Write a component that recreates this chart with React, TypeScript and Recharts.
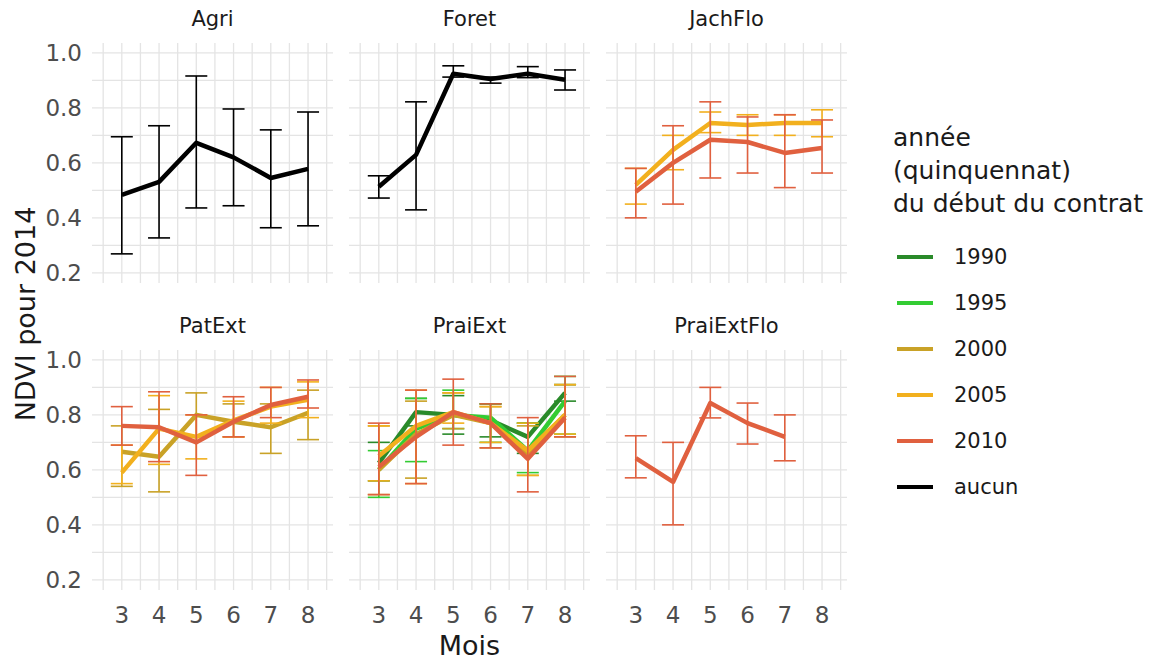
import { LineChart, Line, XAxis, YAxis, CartesianGrid, ErrorBar } from "recharts";

const MOIS = [3, 4, 5, 6, 7, 8];
const X_TICKS = [2.5, 3, 3.5, 4, 4.5, 5, 5.5, 6, 6.5, 7, 7.5, 8, 8.5];
const Y_TICKS = [0.2, 0.3, 0.4, 0.5, 0.6, 0.7, 0.8, 0.9, 1.0];

const ANNEES = ["1990", "1995", "2000", "2005", "2010", "aucun"];
const COULEURS: Record<string, string> = {
  "1990": "#2a8a2a",
  "1995": "#33cc33",
  "2000": "#c9a227",
  "2005": "#f2b01e",
  "2010": "#e0603f",
  aucun: "#000000",
};

// Agri
const agriAucunMoy = [0.484, 0.531, 0.673, 0.62, 0.545, 0.578];
const agriAucunBas = [0.269, 0.327, 0.436, 0.444, 0.364, 0.371];
const agriAucunHaut = [0.695, 0.735, 0.916, 0.796, 0.72, 0.785];

// Foret
const foretAucunMoy = [0.513, 0.629, 0.924, 0.905, 0.924, 0.902];
const foretAucunBas = [0.472, 0.429, 0.912, 0.89, 0.91, 0.865];
const foretAucunHaut = [0.553, 0.822, 0.953, 0.912, 0.95, 0.938];

// JachFlo
const jach2005Moy = [0.52, 0.647, 0.745, 0.738, 0.745, 0.745];
const jach2005Bas = [0.45, 0.575, 0.71, 0.7, 0.7, 0.695];
const jach2005Haut = [0.58, 0.7, 0.785, 0.775, 0.775, 0.793];
const jach2010Moy = [0.495, 0.6, 0.684, 0.676, 0.636, 0.654];
const jach2010Bas = [0.4, 0.45, 0.545, 0.563, 0.51, 0.563];
const jach2010Haut = [0.58, 0.735, 0.822, 0.767, 0.775, 0.756];

// PatExt
const pat2000Moy = [0.666, 0.648, 0.8, 0.775, 0.755, 0.807];
const pat2000Bas = [0.54, 0.52, 0.72, 0.72, 0.66, 0.71];
const pat2000Haut = [0.76, 0.82, 0.88, 0.84, 0.84, 0.89];
const pat2005Moy = [0.59, 0.75, 0.72, 0.78, 0.83, 0.855];
const pat2005Bas = [0.55, 0.62, 0.64, 0.72, 0.77, 0.79];
const pat2005Haut = [0.69, 0.87, 0.8, 0.85, 0.9, 0.92];
const pat2010Moy = [0.76, 0.755, 0.7, 0.775, 0.836, 0.866];
const pat2010Bas = [0.69, 0.63, 0.58, 0.72, 0.79, 0.825];
const pat2010Haut = [0.83, 0.884, 0.8, 0.866, 0.9, 0.927];

// PraiExt
const prai1990Moy = [0.625, 0.81, 0.8, 0.78, 0.72, 0.88];
const prai1990Bas = [0.56, 0.76, 0.73, 0.72, 0.66, 0.85];
const prai1990Haut = [0.7, 0.86, 0.87, 0.84, 0.77, 0.91];
const prai1995Moy = [0.6, 0.75, 0.8, 0.79, 0.67, 0.85];
const prai1995Bas = [0.5, 0.63, 0.75, 0.7, 0.59, 0.73];
const prai1995Haut = [0.67, 0.86, 0.89, 0.84, 0.77, 0.94];
const prai2000Moy = [0.6, 0.73, 0.8, 0.77, 0.66, 0.8];
const prai2000Bas = [0.51, 0.57, 0.75, 0.68, 0.58, 0.72];
const prai2000Haut = [0.76, 0.85, 0.88, 0.83, 0.76, 0.91];
const prai2005Moy = [0.65, 0.76, 0.81, 0.77, 0.67, 0.8];
const prai2005Bas = [0.56, 0.55, 0.77, 0.7, 0.58, 0.73];
const prai2005Haut = [0.76, 0.89, 0.88, 0.83, 0.77, 0.91];
const prai2010Moy = [0.61, 0.72, 0.81, 0.77, 0.64, 0.79];
const prai2010Bas = [0.51, 0.55, 0.69, 0.68, 0.52, 0.72];
const prai2010Haut = [0.77, 0.89, 0.93, 0.84, 0.79, 0.94];

// PraiExtFlo (pas de mois 8)
const praiFlo2010Moy = [0.643, 0.556, 0.843, 0.77, 0.72];
const praiFlo2010Bas = [0.571, 0.4, 0.789, 0.694, 0.633];
const praiFlo2010Haut = [0.724, 0.7, 0.9, 0.843, 0.8];

interface Serie {
  annee: string;
  moy: number[];
  bas: number[];
  haut: number[];
}

interface Panneau {
  titre: string;
  series: Serie[];
}

const PANNEAUX: Panneau[] = [
  { titre: "Agri", series: [{ annee: "aucun", moy: agriAucunMoy, bas: agriAucunBas, haut: agriAucunHaut }] },
  { titre: "Foret", series: [{ annee: "aucun", moy: foretAucunMoy, bas: foretAucunBas, haut: foretAucunHaut }] },
  {
    titre: "JachFlo",
    series: [
      { annee: "2005", moy: jach2005Moy, bas: jach2005Bas, haut: jach2005Haut },
      { annee: "2010", moy: jach2010Moy, bas: jach2010Bas, haut: jach2010Haut },
    ],
  },
  {
    titre: "PatExt",
    series: [
      { annee: "2000", moy: pat2000Moy, bas: pat2000Bas, haut: pat2000Haut },
      { annee: "2005", moy: pat2005Moy, bas: pat2005Bas, haut: pat2005Haut },
      { annee: "2010", moy: pat2010Moy, bas: pat2010Bas, haut: pat2010Haut },
    ],
  },
  {
    titre: "PraiExt",
    series: [
      { annee: "1990", moy: prai1990Moy, bas: prai1990Bas, haut: prai1990Haut },
      { annee: "1995", moy: prai1995Moy, bas: prai1995Bas, haut: prai1995Haut },
      { annee: "2000", moy: prai2000Moy, bas: prai2000Bas, haut: prai2000Haut },
      { annee: "2005", moy: prai2005Moy, bas: prai2005Bas, haut: prai2005Haut },
      { annee: "2010", moy: prai2010Moy, bas: prai2010Bas, haut: prai2010Haut },
    ],
  },
  { titre: "PraiExtFlo", series: [{ annee: "2010", moy: praiFlo2010Moy, bas: praiFlo2010Bas, haut: praiFlo2010Haut }] },
];

const FONT = "DejaVu Sans";
const PLOT_W = 241;
const PLOT_H = 240;
const COL_X = [92, 349, 606];
const ROW_Y = [43, 350];
const Y_AXIS_W = 80;
const X_AXIS_H = 45;
const PAD = 15; // marge pour ne pas couper les étiquettes 1.0 / 0.2

function buildRows(p: Panneau) {
  return MOIS.map((m, i) => {
    const row: Record<string, any> = { mois: m };
    p.series.forEach((s) => {
      if (i < s.moy.length) {
        row[`v${s.annee}`] = s.moy[i];
        row[`e${s.annee}`] = [s.moy[i] - s.bas[i], s.haut[i] - s.moy[i]];
      }
    });
    return row;
  }).filter((r) => Object.keys(r).length > 1);
}

function Facette({ p, col, row }: { p: Panneau; col: number; row: number }) {
  const showY = col === 0;
  const showX = row === 1;
  const padBottom = showX ? 0 : PAD;
  const w = PLOT_W + (showY ? Y_AXIS_W : 0);
  const h = PAD + PLOT_H + padBottom + (showX ? X_AXIS_H : 0);
  const left = COL_X[col] - (showY ? Y_AXIS_W : 0);
  const top = ROW_Y[row] - PAD;
  const data = buildRows(p);
  const tickStyle = { fill: "#4d4d4d", fontSize: 23, fontFamily: FONT };

  return (
    <div style={{ position: "absolute", left, top }}>
      <LineChart width={w} height={h} data={data} margin={{ top: PAD, right: 0, bottom: padBottom, left: 0 }}>
        <CartesianGrid stroke="#e4e4e4" strokeWidth={1.3} syncWithTicks />
        <XAxis
          dataKey="mois"
          type="number"
          domain={[2.2, 8.67]}
          allowDataOverflow
          ticks={X_TICKS}
          interval={0}
          height={showX ? X_AXIS_H : 0}
          axisLine={false}
          tickLine={false}
          tickSize={0}
          tickMargin={17}
          tick={tickStyle}
          tickFormatter={(v: number) => (showX && Number.isInteger(v) ? String(v) : "")}
        />
        <YAxis
          type="number"
          domain={[0.163, 1.036]}
          allowDataOverflow
          ticks={Y_TICKS}
          interval={0}
          width={showY ? Y_AXIS_W : 0}
          axisLine={false}
          tickLine={false}
          tickSize={0}
          tickMargin={10}
          tick={tickStyle}
          tickFormatter={(v: number) => (showY && Math.round(v * 10) % 2 === 0 ? v.toFixed(1) : "")}
        />
        {p.series.map((s) => (
          <Line
            key={s.annee}
            dataKey={`v${s.annee}`}
            stroke={COULEURS[s.annee]}
            strokeWidth={4.5}
            strokeLinejoin="round"
            dot={false}
            activeDot={false}
            isAnimationActive={false}
          >
            <ErrorBar
              dataKey={`e${s.annee}`}
              direction="y"
              width={11}
              stroke={COULEURS[s.annee]}
              strokeWidth={1.6}
              isAnimationActive={false}
            />
          </Line>
        ))}
      </LineChart>
      <div
        style={{
          position: "absolute",
          left: showY ? Y_AXIS_W : 0,
          top: PAD - 36,
          width: PLOT_W,
          textAlign: "center",
          fontSize: 21,
          color: "#1a1a1a",
          fontFamily: FONT,
        }}
      >
        {p.titre}
      </div>
    </div>
  );
}

export default function App() {
  return (
    <div
      style={{
        position: "absolute",
        left: 0,
        top: 0,
        width: 1151,
        height: 666,
        background: "#ffffff",
        fontFamily: FONT,
        overflow: "hidden",
      }}
    >
      {PANNEAUX.map((p, i) => (
        <Facette key={p.titre} p={p} col={i % 3} row={Math.floor(i / 3)} />
      ))}

      {/* titre axe Y */}
      <div
        style={{
          position: "absolute",
          left: 25,
          top: 314,
          transform: "translate(-50%, -50%) rotate(-90deg)",
          whiteSpace: "nowrap",
          fontSize: 27,
          color: "#1a1a1a",
        }}
      >
        NDVI pour 2014
      </div>

      {/* titre axe X */}
      <div
        style={{
          position: "absolute",
          left: COL_X[1],
          top: 630,
          width: PLOT_W,
          textAlign: "center",
          fontSize: 27,
          color: "#1a1a1a",
        }}
      >
        Mois
      </div>

      {/* légende */}
      <div
        style={{
          position: "absolute",
          left: 893,
          top: 121,
          fontSize: 25,
          lineHeight: "33px",
          color: "#1a1a1a",
          whiteSpace: "nowrap",
        }}
      >
        année
        <br />
        (quinquennat)
        <br />
        du début du contrat
      </div>
      {ANNEES.map((a, i) => (
        <div
          key={a}
          style={{
            position: "absolute",
            left: 897,
            top: 257 + 46 * i - 15,
            height: 30,
            display: "flex",
            alignItems: "center",
          }}
        >
          <span style={{ display: "inline-block", width: 36, height: 4, background: COULEURS[a] }} />
          <span style={{ marginLeft: 21, fontSize: 21, color: "#1a1a1a" }}>{a}</span>
        </div>
      ))}
    </div>
  );
}
